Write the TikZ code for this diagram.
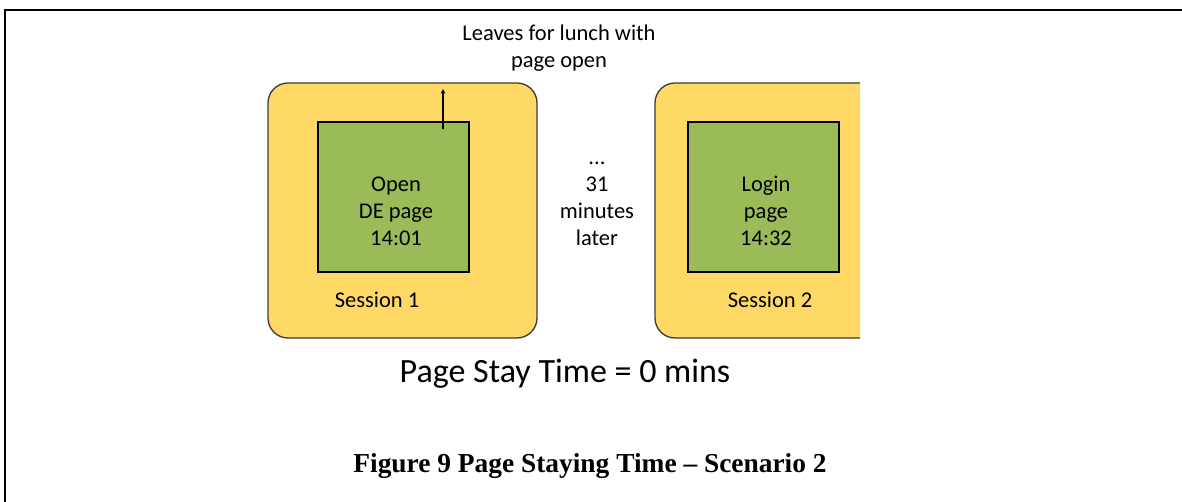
\documentclass[tikz,border=0pt]{standalone}
\usepackage{fontspec}
\usepackage{xcolor}
\usepackage{tikz}
\setmainfont{Carlito}
\newfontfamily\capfont{Liberation Serif}
\definecolor{sessyellow}{HTML}{FFD966}
\definecolor{pagegreen}{HTML}{9BBB59}
\definecolor{sessedge}{HTML}{3A3A3A}

\begin{document}
\begin{tikzpicture}[x=1pt,y=-1pt,
	session/.style={draw=sessedge,line width=1.3pt,fill=sessyellow,rounded corners=20pt,minimum width=269pt,minimum height=255pt},
	pagebox/.style={draw=black,line width=1.3pt,fill=pagegreen,minimum width=151pt,minimum height=150pt},
	lbl/.style={align=center,font=\fontsize{22.5}{27}\selectfont}]
			\useasboundingbox (0,0) rectangle (1182,502);
			% Khung
			\draw[line width=2.2pt] (5,502) -- (5,10) -- (1182,10);
			% Phiên 1
			\node[session] (sess1) at (402.5,210.5) {};
			\node[pagebox] (page1) at (393.5,197) {};
			\node[lbl] (page1txt) at (396,211) {Open\\DE page\\14:01};
			\node[lbl] (s1lbl) at (377,300) {Session 1};
			% Phiên 2 (bị cắt bên phải)
			\begin{scope}
				\clip (640,70) rectangle (860,350);
				\node[session] (sess2) at (789.5,210.5) {};
			\end{scope}
			\node[pagebox] (page2) at (763.5,197) {};
			\node[lbl] (page2txt) at (766,211) {Login\\page\\14:32};
			\node[lbl] (s2lbl) at (770,300) {Session 2};
			% Chữ
			\node[lbl] (leave) at (559,48) {Leaves for lunch with\\page open};
			\node[lbl] (later) at (597,204) {...\\31\\minutes\\later};
			\coordinate (tip) at (443,89);
			\draw[->,>=stealth,line width=1.1pt] ([xshift=49.5pt,yshift=-8pt]page1.north) -- (tip);
			\node[font=\fontsize{34}{40}\selectfont] (stay) at (565,374) {Page Stay Time = 0 mins};
			\node[font=\capfont\bfseries\fontsize{27.4}{32}\selectfont] (cap) at (590,466) {Figure 9 Page Staying Time – Scenario 2};
		\end{tikzpicture}
\end{document}
